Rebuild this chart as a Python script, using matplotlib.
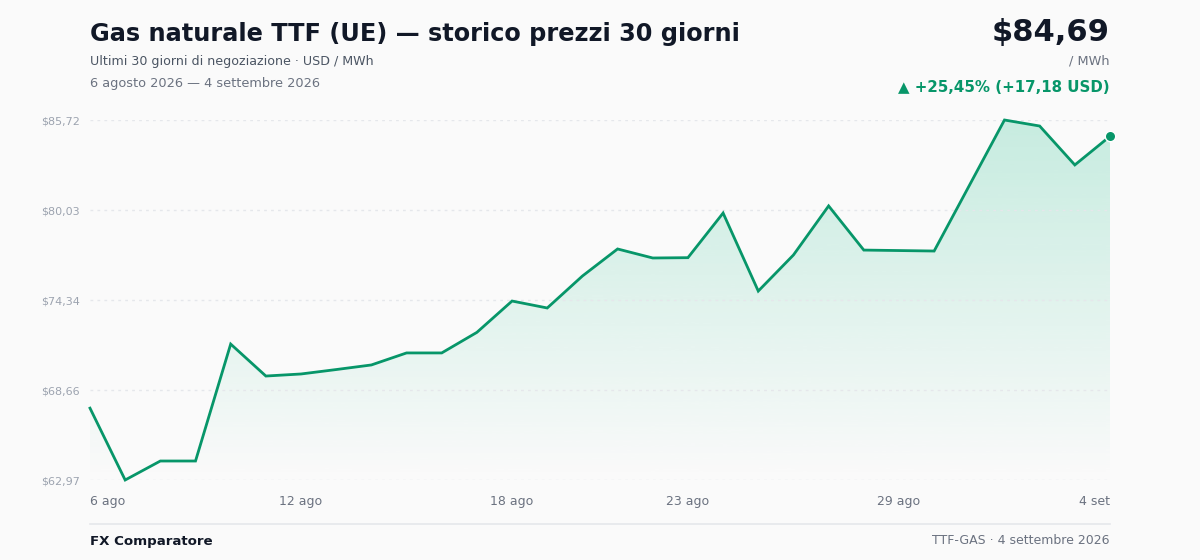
import numpy as np
import pandas as pd
import matplotlib
matplotlib.use('Agg')
import matplotlib.pyplot as plt
import matplotlib.dates as mdates
from matplotlib.colors import LinearSegmentedColormap

# prezzi giornalieri (USD / MWh), 6 ago - 4 set 2026
dates = pd.date_range('2026-08-06', '2026-09-04', freq='D')
prices = [67.51, 62.97, 64.17, 64.17, 71.56, 69.54, 69.67, 69.95, 70.24, 71.00,
          71.00, 72.30, 74.28, 73.84, 75.86, 77.57, 77.00, 77.02, 79.84, 74.91,
          77.19, 80.29, 77.50, 77.47, 77.44, 81.58, 85.72, 85.34, 82.88, 84.69]
tick_dates = ['2026-08-06', '2026-08-12', '2026-08-18', '2026-08-23', '2026-08-29', '2026-09-04']
tick_labels = ['6 ago', '12 ago', '18 ago', '23 ago', '29 ago', '4 set']

green = '#079669'
bg = '#fafafa'

plt.rcParams['font.family'] = 'sans-serif'
plt.rcParams['font.sans-serif'] = ['DejaVu Sans']

fig = plt.figure(figsize=(12, 5.6), dpi=100, facecolor=bg)
ax = fig.add_axes([0.075, 1 - 480 / 560, 0.85, 360 / 560])
ax.set_facecolor(bg)

x = mdates.date2num(dates)
y = np.array(prices)
ymin, ymax = y.min(), y.max()

# riempimento con gradiente verticale
fill = ax.fill_between(x, y, ymin, color='none', lw=0)
grad = np.linspace(0.22, 0.0, 256).reshape(-1, 1)
cmap = LinearSegmentedColormap.from_list('g', [(0.06, 0.73, 0.51, 0.0), (0.06, 0.73, 0.51, 1.0)])
img = ax.imshow(grad, cmap=cmap, vmin=0, vmax=1, aspect='auto',
                extent=[x[0], x[-1], ymin, ymax], origin='upper', zorder=1)
img.set_clip_path(fill.get_paths()[0], transform=ax.transData)

ax.plot(x, y, color=green, lw=2, zorder=3, clip_on=False, solid_joinstyle='miter')
ax.plot(x[-1], y[-1], 'o', color=green, ms=7.5, zorder=4, clip_on=False,
        markeredgecolor='white', markeredgewidth=1)

ax.set_xlim(x[0], x[-1])
ax.set_ylim(ymin, ymax)
yt = np.linspace(ymin, ymax, 5)
ax.set_yticks(yt)
ax.set_yticklabels(['$' + f'{v:.2f}'.replace('.', ',') for v in yt])
ax.set_xticks(mdates.date2num(pd.to_datetime(tick_dates)))
ax.set_xticklabels(tick_labels)
ax.tick_params(axis='y', length=0, labelsize=8, labelcolor='#9ca3af', pad=7.5)
ax.tick_params(axis='x', length=0, labelsize=9, labelcolor='#6b7280', pad=11)
xl = ax.get_xticklabels()
xl[0].set_ha('left')
xl[-1].set_ha('right')
for s in ax.spines.values():
    s.set_visible(False)
ax.grid(axis='y', color='#e5e7eb', lw=1, ls=(0, (2, 3)), zorder=0)

# intestazione
fig.text(90 / 1200, 1 - 34 / 560, 'Gas naturale TTF (UE) — storico prezzi 30 giorni',
         fontsize=17.3, fontweight='bold', color='#111827', va='center')
fig.text(90 / 1200, 1 - 61 / 560, 'Ultimi 30 giorni di negoziazione · USD / MWh',
         fontsize=9.1, color='#4b5563', va='center')
fig.text(90 / 1200, 1 - 83 / 560, '6 agosto 2026 — 4 settembre 2026',
         fontsize=9.3, color='#6b7280', va='center')
fig.text(1110 / 1200, 1 - 33 / 560, '$84,69', fontsize=22, fontweight='bold',
         color='#111827', va='center', ha='right')
fig.text(1110 / 1200, 1 - 61 / 560, '/ MWh', fontsize=9.3, color='#6b7280',
         va='center', ha='right')
fig.text(1110 / 1200, 1 - 87 / 560, '▲ +25,45% (+17,18 USD)', fontsize=10.8,
         fontweight='bold', color=green, va='center', ha='right')

# piè di pagina
fig.add_artist(plt.Line2D([90 / 1200, 1110 / 1200], [1 - 524 / 560] * 2,
                          color='#e5e7eb', lw=1.2))
fig.text(90 / 1200, 1 - 541 / 560, 'FX Comparatore', fontsize=9.6, fontweight='bold',
         color='#111827', va='center')
fig.text(1110 / 1200, 1 - 541 / 560, 'TTF-GAS · 4 settembre 2026', fontsize=9.0,
         color='#6b7280', va='center', ha='right')

fig.savefig('out.png', dpi=100, facecolor=bg)
